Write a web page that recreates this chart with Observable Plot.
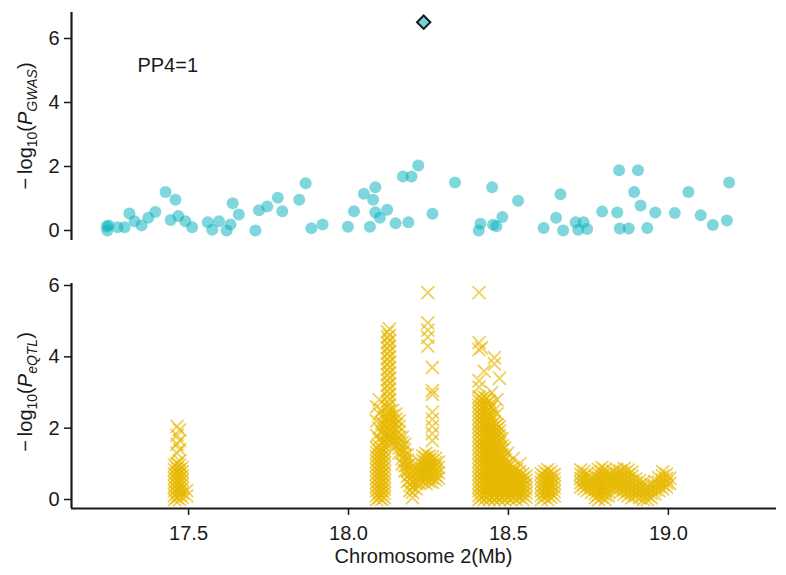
<!DOCTYPE html>
<html><head><meta charset="utf-8">
<script src="https://cdn.jsdelivr.net/npm/d3@7"></script>
<script src="https://cdn.jsdelivr.net/npm/@observablehq/plot@0.6"></script>
<style>
body{margin:0;background:#fff;font-family:"Liberation Sans",Arial,sans-serif;}
#chart svg{display:block;}
</style></head><body><div id="chart"></div>
<script>
// ---- data ----
const xTicks = [17.5, 18.0, 18.5, 19.0];
const yTicks = [0, 2, 4, 6];
const xDomain = [17.134, 19.338];
const gwasDomain = [-0.3125, 6.8125];
const eqtlDomain = [-0.252, 6.056];
const annotation = {pos: 17.34, logP: 5.15, label: "PP4=1"};
const leadSnp = {pos: 18.235, logP: 6.51};

const gwasPos = [17.244,17.246,17.25,17.278,17.3,17.315,17.331,17.353,17.374,17.396,17.428,17.444,17.459,17.468,17.49,17.511,17.56,17.574,17.595,17.619,17.631,17.638,17.657,17.709,17.72,17.746,17.779,17.793,17.846,17.866,17.884,17.919,17.998,18.017,18.048,18.067,18.077,18.084,18.084,18.098,18.121,18.147,18.17,18.187,18.197,18.218,18.2625,18.333,18.407,18.4125,18.449,18.452,18.4625,18.481,18.53,18.61,18.649,18.6625,18.671,18.71,18.718,18.735,18.746,18.793,18.84,18.846,18.848,18.876,18.893,18.905,18.913,18.934,18.959,19.02,19.0625,19.101,19.139,19.183,19.19];
const gwasLogP = [0.125,0.0,0.16,0.1,0.1,0.53,0.29,0.16,0.4,0.58,1.2,0.33,0.96,0.45,0.29,0.1,0.26,0.02,0.29,0.0,0.19,0.85,0.5,0.0,0.63,0.75,1.02,0.6,0.96,1.48,0.07,0.19,0.12,0.6,1.15,0.12,0.96,1.35,0.57,0.4,0.65,0.23,1.69,0.26,1.69,2.03,0.52,1.5,0.0,0.21,1.35,0.18,0.13,0.42,0.93,0.08,0.4,1.13,0.0,0.26,0.02,0.26,0.05,0.59,0.56,1.88,0.06,0.06,1.2,1.88,0.78,0.08,0.56,0.55,1.2,0.48,0.17,0.31,1.5];

// eQTL SNPs: [position (Mb), -log10 P values of the SNPs read at that position]
const eqtlColumns = [
[17.456,[0,0.12,0.24,0.36,0.48,0.6,0.72,0.84,0.96]],
[17.464,[0.05,0.17,0.29,0.41,0.53,0.65,0.77,0.89,1.01,1.3,1.55,1.8,2.05]],
[17.472,[0,0.12,0.24,0.36,0.48,0.6,0.72,0.84,0.96,1.08,1.4,1.65,1.95]],
[17.480,[0.06,0.18,0.3,0.42,0.54,0.66,0.78,0.9]],
[17.494,[0.1,0.25]],
[18.088,[0,0.12,0.24,0.36,0.48,0.6,0.72,0.84,0.96,1.08,1.2,1.32,1.44,1.8,2.2,2.6]],
[18.096,[0.05,0.17,0.29,0.41,0.53,0.65,0.77,0.89,1.01,1.13,1.25,1.37,1.49,1.7,2.0,2.4,2.8]],
[18.104,[0,0.12,0.24,0.36,0.48,0.6,0.72,0.84,0.96,1.08,1.2,1.32,1.44,1.6,1.9,2.15,2.5]],
[18.112,[0.05,0.17,0.29,0.41,0.53,0.65,0.77,0.89,1.01,1.13,1.25,1.37,1.5,1.65,1.8,1.95,2.1,2.3]],
[18.122,[1.55,1.7,1.85,2.0,2.15,2.3,2.45,2.6,2.75,2.9,3.05,3.2,3.35,3.5,3.65,3.8,3.95,4.1,4.25,4.4,4.55,4.7]],
[18.128,[1.6,1.75,1.9,2.05,2.2,2.35,2.5,2.65,2.8,2.95,3.1,3.25,3.4,3.55,3.7,3.85,4.0,4.15,4.3,4.45,4.6,4.78]],
[18.138,[1.6,1.75,1.9,2.05,2.2,2.35,2.5]],
[18.148,[1.5,1.65,1.8,1.95,2.1,2.25,2.4]],
[18.158,[1.3,1.45,1.6,1.75,1.9,2.05,2.2]],
[18.168,[1.0,1.15,1.3,1.45,1.6,1.75]],
[18.176,[0.8,0.95,1.1,1.25,1.4,1.55]],
[18.184,[0.5,0.65,0.8,0.95,1.1,1.25]],
[18.192,[0.25,0.4,0.55,0.7,0.85,1.0]],
[18.200,[0.05,0.2,0.35,0.5,0.65,0.8]],
[18.212,[0.3,0.45,0.6,0.75,0.9]],
[18.222,[0.45,0.6,0.75,0.9,1.05]],
[18.232,[0.5,0.62,0.74,0.86,0.98,1.1,1.22]],
[18.242,[0.45,0.57,0.69,0.81,0.93,1.05,1.17,1.29]],
[18.248,[4.3,4.55,4.75,4.95,5.8]],
[18.252,[0.5,0.62,0.74,0.86,0.98,1.1,1.22]],
[18.262,[0.48,0.6,0.72,0.84,0.96,1.08,1.2,1.65,1.85,2.05,2.25,2.45,2.95,3.05,3.7]],
[18.272,[0.55,0.67,0.79,0.91,1.03,1.15]],
[18.281,[0.6,0.75,0.9,1.05]],
[18.408,[0,0.12,0.24,0.36,0.48,0.6,0.72,0.84,0.96,1.08,1.2,1.32,1.44,1.56,1.68,1.8,1.92,2.04,2.16,2.28,2.4,2.52,2.64,2.76,2.88,3.15,3.33,4.2,4.4,5.8]],
[18.416,[0.06,0.18,0.3,0.42,0.54,0.66,0.78,0.9,1.02,1.14,1.26,1.38,1.5,1.62,1.74,1.86,1.98,2.1,2.22,2.34,2.46,2.58,2.7,2.82,4.25]],
[18.424,[0,0.12,0.24,0.36,0.48,0.6,0.72,0.84,0.96,1.08,1.2,1.32,1.44,1.56,1.68,1.8,1.92,2.04,2.16,2.28,2.4,2.52,2.64,2.76,2.88,3.6]],
[18.432,[0.06,0.18,0.3,0.42,0.54,0.66,0.78,0.9,1.02,1.14,1.26,1.38,1.5,1.62,1.74,1.86,1.98,2.1,2.22,2.34,2.46,2.58,2.7,2.82]],
[18.440,[0,0.12,0.24,0.36,0.48,0.6,0.72,0.84,0.96,1.08,1.2,1.32,1.44,1.56,1.68,1.8,1.92,2.04,2.16,2.28,2.4,2.52,2.64,2.76]],
[18.448,[0.06,0.18,0.3,0.42,0.54,0.66,0.78,0.9,1.02,1.14,1.26,1.38,1.5,1.62,1.74,1.86,1.98,2.1,2.22,2.34,2.6,3.0]],
[18.456,[0,0.12,0.24,0.36,0.48,0.6,0.72,0.84,0.96,1.08,1.2,1.32,1.44,1.56,1.68,1.8,1.92,2.04,2.16,2.5,3.8,3.98]],
[18.464,[0.06,0.18,0.3,0.42,0.54,0.66,0.78,0.9,1.02,1.14,1.26,1.38,1.5,1.62,1.74,1.86,1.98,2.1,2.4,2.8]],
[18.472,[0,0.12,0.24,0.36,0.48,0.6,0.72,0.84,0.96,1.08,1.2,1.32,1.44,1.56,1.68,1.8,1.92,2.04,3.4]],
[18.480,[0.06,0.18,0.3,0.42,0.54,0.66,0.78,0.9,1.02,1.14,1.26,1.38,1.5,1.7]],
[18.488,[0,0.12,0.24,0.36,0.48,0.6,0.72,0.84,0.96,1.08,1.2,1.45]],
[18.497,[0.06,0.18,0.3,0.42,0.54,0.66,0.78,0.9,1.02,1.3]],
[18.506,[0,0.12,0.24,0.36,0.48,0.6,0.72,0.84,0.96]],
[18.515,[0.06,0.18,0.3,0.42,0.54,0.66,0.78,0.9,1.15]],
[18.525,[0,0.12,0.24,0.36,0.48,0.6,0.72,0.84]],
[18.535,[0.06,0.18,0.3,0.42,0.54,0.66,0.78,1.0]],
[18.545,[0,0.12,0.24,0.36,0.48,0.6,0.72]],
[18.555,[0.06,0.18,0.3,0.42,0.54,0.66]],
[18.603,[0,0.12,0.24,0.36,0.48,0.6,0.72]],
[18.613,[0.06,0.18,0.3,0.42,0.54,0.66,0.78]],
[18.623,[0,0.12,0.24,0.36,0.48,0.6,0.72,0.84]],
[18.633,[0.06,0.18,0.3,0.42,0.54,0.66,0.78]],
[18.643,[0.1,0.22,0.34,0.46,0.58,0.7]],
[18.726,[0.35,0.47,0.59,0.71,0.83]],
[18.736,[0.3,0.42,0.54,0.66,0.78]],
[18.746,[0.25,0.37,0.49,0.61,0.73]],
[18.760,[0.2,0.32,0.44,0.56]],
[18.772,[0.05,0.17,0.29,0.41,0.53,0.65]],
[18.782,[0,0.12,0.24,0.36,0.48,0.6,0.72,0.84]],
[18.792,[0.06,0.18,0.3,0.42,0.54,0.66,0.78,0.9]],
[18.802,[0,0.12,0.24,0.36,0.48,0.6,0.72,0.84]],
[18.812,[0.1,0.22,0.34,0.46,0.58,0.7]],
[18.826,[0.3,0.42,0.54,0.66,0.78]],
[18.838,[0.25,0.37,0.49,0.61,0.73,0.85]],
[18.850,[0.2,0.32,0.44,0.56,0.68,0.8]],
[18.862,[0.15,0.27,0.39,0.51,0.63,0.75,0.87]],
[18.874,[0.1,0.22,0.34,0.46,0.58,0.7,0.82]],
[18.886,[0.05,0.17,0.29,0.41,0.53,0.65,0.77]],
[18.898,[0.1,0.22,0.34,0.46,0.58]],
[18.910,[0.05,0.17,0.29,0.41,0.53]],
[18.922,[0,0.12,0.24,0.36,0.48]],
[18.934,[0,0.12,0.24,0.36]],
[18.946,[0.05,0.17,0.29,0.41]],
[18.958,[0.15,0.27,0.39,0.51]],
[18.970,[0.25,0.37,0.49,0.61]],
[18.982,[0.3,0.42,0.54,0.66,0.78]],
[18.994,[0.35,0.47,0.59,0.71]],
[19.004,[0.45,0.6]]
];

// ---- build tables ----
const gwas = gwasPos.map((p, i) => ({pos: p, logP: gwasLogP[i]}));
const eqtl = eqtlColumns.flatMap(([p, ys]) => ys.map(y => ({pos: p, logP: y})));

const font = "'Liberation Sans', Arial, sans-serif";
const ink = "#1a1a1a";
const teal = "#00AFBB";
const gold = "#E7B800";

const baseStyle = {fontFamily: font, fontSize: "20px", color: ink, background: "white", overflow: "visible"};

const topPlot = Plot.plot({
  width: 786, height: 250,
  marginLeft: 71, marginRight: 10, marginTop: 12, marginBottom: 10,
  style: baseStyle,
  x: {domain: xDomain, axis: null},
  y: {domain: gwasDomain, axis: null},
  marks: [
    Plot.axisY({ticks: yTicks, tickSize: 7, tickPadding: 5, fontSize: 20, strokeWidth: 1.5, label: null, tickFormat: d => String(d)}),
    Plot.ruleX([xDomain[0]], {stroke: ink, strokeWidth: 2.2}),
    Plot.dot(gwas, {x: "pos", y: "logP", r: 6, fill: teal, fillOpacity: 0.5, stroke: "none"}),
    Plot.dot([leadSnp], {x: "pos", y: "logP", symbol: "diamond2", r: 6, fill: teal, fillOpacity: 0.55, stroke: ink, strokeWidth: 2}),
    Plot.text([annotation], {x: "pos", y: "logP", text: "label", textAnchor: "start", fontSize: 20, fill: ink})
  ]
});

const bottomPlot = Plot.plot({
  width: 786, height: 325,
  marginLeft: 71, marginRight: 10, marginTop: 33, marginBottom: 67,
  style: baseStyle,
  x: {domain: xDomain, axis: null},
  y: {domain: eqtlDomain, axis: null},
  marks: [
    Plot.axisY({ticks: yTicks, tickSize: 7, tickPadding: 5, fontSize: 20, strokeWidth: 1.5, label: null, tickFormat: d => String(d)}),
    Plot.axisX({ticks: xTicks, tickSize: 7, tickPadding: 10, fontSize: 20, strokeWidth: 1.5, label: null, tickFormat: d3.format(".1f")}),
    Plot.dot(eqtl, {x: "pos", y: "logP", symbol: "times", r: 6, stroke: gold, strokeOpacity: 0.65, strokeWidth: 1.8}),
    Plot.ruleX([xDomain[0]], {stroke: ink, strokeWidth: 2.2}),
    Plot.ruleY([eqtlDomain[0]], {stroke: ink, strokeWidth: 2.2})
  ]
});

function addYLabel(svg, cy, sub) {
  const t = d3.select(svg).append("text")
    .attr("transform", `translate(32,${cy}) rotate(-90)`)
    .attr("text-anchor", "middle")
    .attr("font-family", font).attr("font-size", 20).attr("fill", ink);
  t.append("tspan").text("\u2212\u2009log");
  t.append("tspan").attr("font-size", 14).attr("dy", 5).text("10");
  t.append("tspan").attr("dy", -5).text("(");
  t.append("tspan").attr("font-style", "italic").text("P");
  t.append("tspan").attr("font-size", 14).attr("font-style", "italic").attr("dy", 5).text(sub);
  t.append("tspan").attr("dy", -5).text(")");
}
addYLabel(topPlot, 126, "GWAS");
addYLabel(bottomPlot, 142, "eQTL");

d3.select(bottomPlot).append("text")
  .attr("x", 423.5).attr("y", 313)
  .attr("text-anchor", "middle")
  .attr("font-family", font).attr("font-size", 20).attr("fill", ink)
  .text("Chromosome 2(Mb)");

const chart = document.getElementById("chart");
chart.appendChild(topPlot);
chart.appendChild(bottomPlot);
</script>
</body></html>
